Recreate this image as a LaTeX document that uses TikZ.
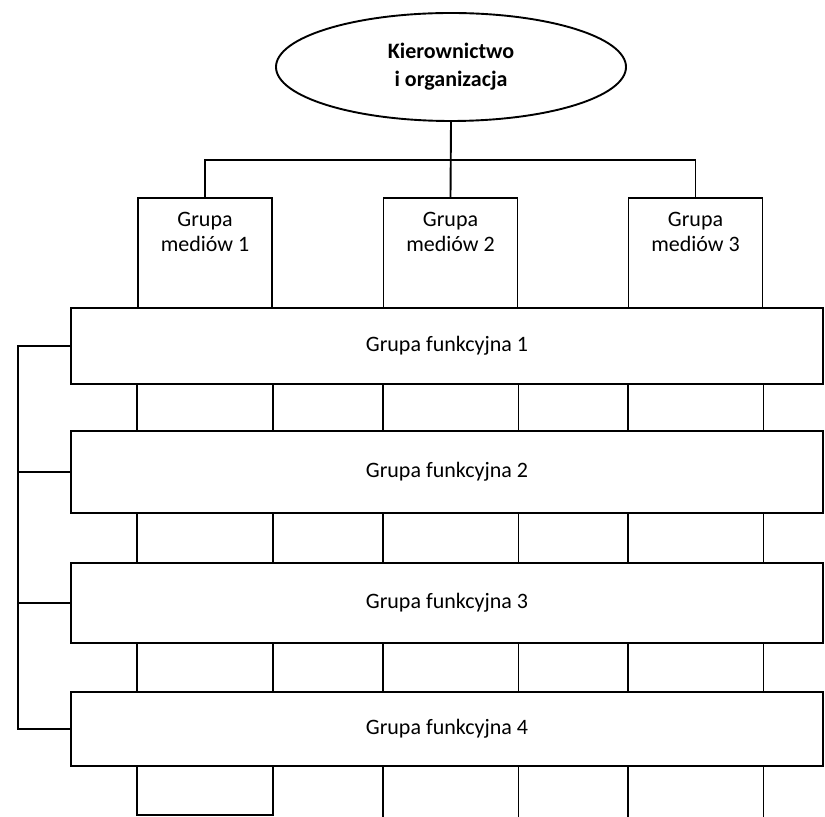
\documentclass[tikz,border=0pt]{standalone}
\usepackage{fontspec}
\setmainfont{Carlito}
\usetikzlibrary{shapes.geometric}

\begin{document}
\begin{tikzpicture}[x=0.5pt, y=-0.5pt, line width=0.95pt]
\tikzset{el/.style={draw, rectangle, inner sep=0pt, line width=0.95pt},
 bar/.style={el, fill=white, minimum width=376pt, font=\fontsize{11}{13}\selectfont},
 lbl/.style={inner sep=0pt, align=center, font=\fontsize{11}{12.4}\selectfont}}

\useasboundingbox (0,0) rectangle (825,817);

% Management
\node[draw, ellipse, inner sep=0pt, minimum width=175pt, minimum height=54pt, align=center,
 font=\bfseries\fontsize{11}{14}\selectfont] (mgmt) at (451,67) {Kierownictwo\\i organizacja};

% Media groups
\node[el, minimum width=67pt, minimum height=55pt,
 label={[lbl, anchor=north, yshift=-7pt]north:{Grupa\\mediów 1}}] (m1) at (205,253) {};
\node[el, minimum width=67pt, minimum height=55pt,
 label={[lbl, anchor=north, yshift=-7pt]north:{Grupa\\mediów 2}}] (m2) at (450.5,253) {};
\node[el, minimum width=67pt, minimum height=55pt,
 label={[lbl, anchor=north, yshift=-7pt]north:{Grupa\\mediów 3}}] (m3) at (695.5,253) {};

\coordinate (tee) at (451,160);
\coordinate (shut) at (0,815);
\coordinate (bot) at (0,830);
\coordinate (br) at (18,0);

% Columns below media groups
\draw (m1.south west) rectangle (m1.south east |- shut);
\draw (m2.south west) -- (m2.south west |- bot);
\draw (m2.south east) -- (m2.south east |- bot);
\draw (m3.south west) -- (m3.south west |- bot);
\draw (m3.south east) -- (m3.south east |- bot);

% Functional groups
\node[bar, minimum height=38pt] (f1) at (447,346) {Grupa funkcyjna 1};
\node[bar, minimum height=41pt] (f2) at (447,472) {Grupa funkcyjna 2};
\node[bar, minimum height=40pt] (f3) at (447,603) {Grupa funkcyjna 3};
\node[bar, minimum height=37pt] (f4) at (447,729) {Grupa funkcyjna 4};

% Connections
\draw (mgmt.south) -- (m2.north);
\draw (m1.north) |- (tee) -| (m3.north);

\draw (f1.west) -- (br |- f1.west) -- (br |- f4.west) -- (f4.west);
\draw (f2.west) -- (br |- f2.west);
\draw (f3.west) -- (br |- f3.west);

\end{tikzpicture}
\end{document}
